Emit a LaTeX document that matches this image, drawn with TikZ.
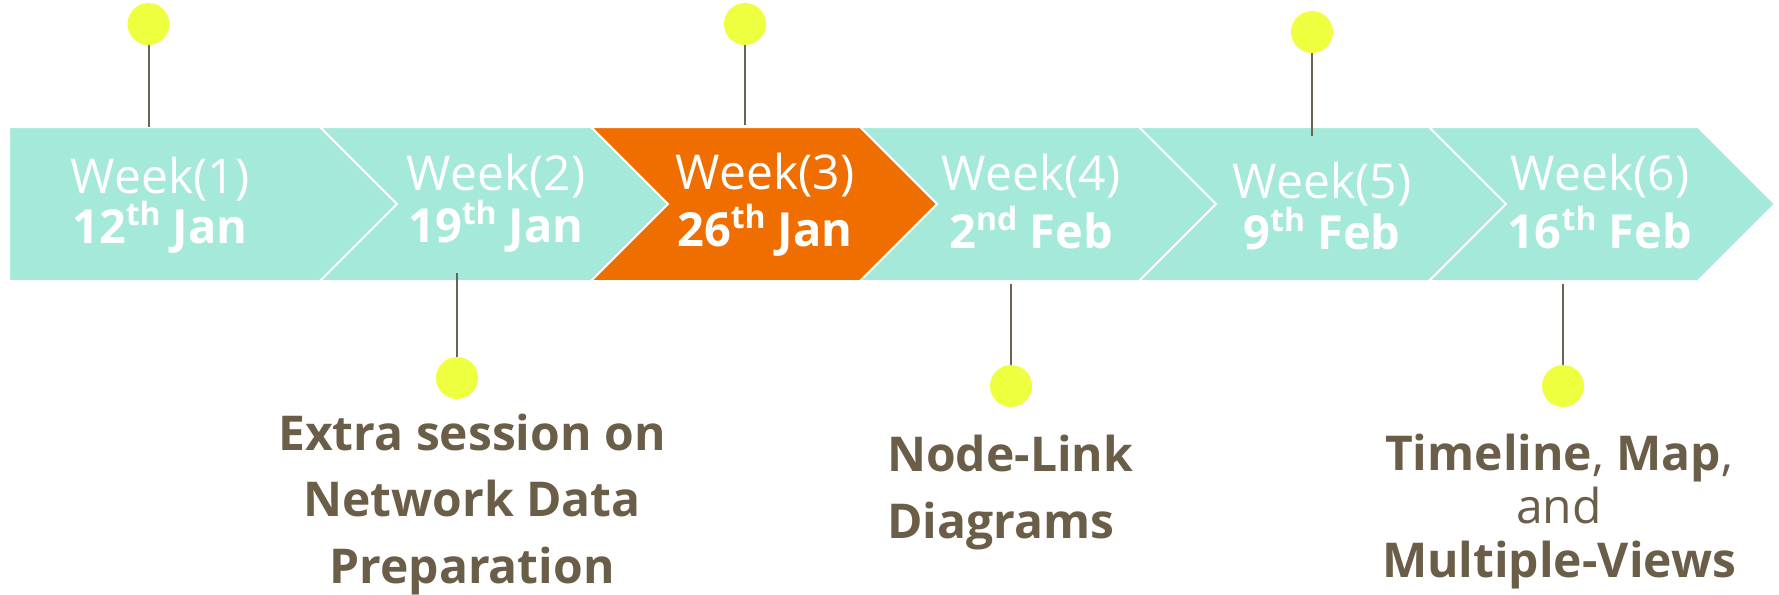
\documentclass[tikz,border=0pt]{standalone}
\usepackage{fontspec}
\setmainfont{Open Sans}
\usetikzlibrary{positioning,calc}
\definecolor{weekcyan}{HTML}{A4E9D9}
\definecolor{weeknow}{HTML}{F06E00}
\definecolor{pinyellow}{HTML}{EEFF40}
\definecolor{stemgray}{HTML}{6B6355}
\definecolor{topicbrown}{HTML}{6B5E48}
\newcommand{\wkdate}[3]{#1\raisebox{18pt}{\fontsize{32}{32}\selectfont #2}~#3}
\tikzset{
  week/.style={fill=weekcyan,draw=white,line width=2pt,line join=miter},
  weekhot/.style={week,fill=weeknow},
  pin/.style={circle,fill=pinyellow,minimum size=42pt,inner sep=0pt},
  stem/.style={draw=stemgray,line width=2pt},
  wklabel/.style={text=white,font=\fontsize{48}{48}\selectfont,anchor=base,inner sep=0pt},
  datelabel/.style={text=white,font=\fontsize{47}{47}\selectfont\bfseries,anchor=base,inner sep=0pt},
  topic/.style={text=topicbrown,font=\fontsize{48}{66.5}\selectfont\bfseries,anchor=base,inner sep=0pt}
}
\begin{document}
\begin{tikzpicture}[x=1pt,y=-1pt]
\useasboundingbox (0,0) rectangle (1779,594);
\draw[week] (9,127) -- (320,127) -- (397,204) -- (320,281) -- (9,281) -- cycle;
\draw[week] (320,127) -- (591,127) -- (668,204) -- (591,281) -- (320,281) -- (397,204) -- cycle;
\draw[week] (860,127) -- (1139,127) -- (1216,204) -- (1139,281) -- (860,281) -- (937,204) -- cycle;
\draw[week] (1139,127) -- (1429,127) -- (1506,204) -- (1429,281) -- (1139,281) -- (1216,204) -- cycle;
\draw[week] (1429,127) -- (1698,127) -- (1775,204) -- (1698,281) -- (1429,281) -- (1506,204) -- cycle;
\draw[weekhot] (591,127) -- (860,127) -- (937,204) -- (860,281) -- (591,281) -- (668,204) -- cycle;
\node[wklabel] (w1) at (160,193) {Week(1)};
\node[wklabel] (w2) at (496,190) {Week(2)};
\node[wklabel] (w3) at (765,189) {Week(3)};
\node[wklabel] (w4) at (1031,190) {Week(4)};
\node[wklabel] (w5) at (1322,198) {Week(5)};
\node[wklabel] (w6) at (1600,190) {Week(6)};
\node[datelabel] (d1) at (160,243) {\wkdate{12}{th}{Jan}};
\node[datelabel] (d2) at (496,242) {\wkdate{19}{th}{Jan}};
\node[datelabel] (d3) at (765,246) {\wkdate{26}{th}{Jan}};
\node[datelabel] (d4) at (1031,248) {\wkdate{2}{nd}{Feb}};
\node[datelabel] (d5) at (1322,249) {\wkdate{9}{th}{Feb}};
\node[datelabel] (d6) at (1600,248) {\wkdate{16}{th}{Feb}};
\node[pin] (p1) at (148.5,24) {};
\node[pin] (p3) at (745,24) {};
\node[pin] (p5) at (1312,32) {};
\node[pin] (p2) at (457,378) {};
\node[pin] (p4) at (1011,386) {};
\node[pin] (p6) at (1563,386) {};
\coordinate (s1) at (148.5,127);
\coordinate (s3) at (745,125);
\coordinate (s5) at (1312,136);
\coordinate (s2) at (457,273);
\coordinate (s4) at (1011,284);
\coordinate (s6) at (1563,284);
\draw[stem] (p1) -- (s1);
\draw[stem] (p3) -- (s3);
\draw[stem] (p5) -- (s5);
\draw[stem] (s2) -- (p2);
\draw[stem] (s4) -- (p4);
\draw[stem] (s6) -- (p6);
\node[topic,align=center] (t2) at (472,583) {Extra session on\\Network Data\\Preparation};
\node[topic,align=left,anchor=base west] (t4) at (887,538) {Node-Link\\Diagrams};
\node[topic,align=center,font=\fontsize{48}{53.5}\selectfont\bfseries] (t6) at (1559,577)
  {Timeline\mdseries, \bfseries Map\mdseries,\\\mdseries and\\Multiple-Views};
\end{tikzpicture}
\end{document}
